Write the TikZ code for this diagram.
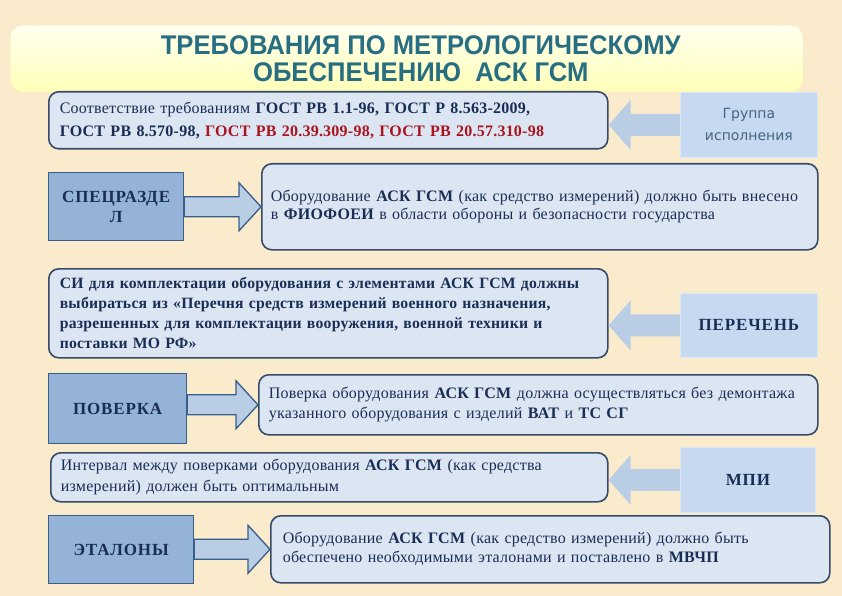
\documentclass[tikz,border=0pt]{standalone}
\usepackage{fontspec}
\setmainfont{Liberation Serif}[LetterSpace=1.5]
\newfontfamily\titlefont[FakeStretch=0.95]{Liberation Sans}
\newfontfamily\grpfont{DejaVu Sans}
\newfontfamily\keyfont[LetterSpace=5]{Liberation Serif}
\usetikzlibrary{calc}
\definecolor{bgcol}{RGB}{250,235,205}
\definecolor{boxfill}{RGB}{220,230,242}
\definecolor{boxline}{RGB}{55,75,105}
\definecolor{keyfill}{RGB}{149,179,215}
\definecolor{keyline}{RGB}{56,93,138}
\definecolor{srcfill}{RGB}{198,217,241}
\definecolor{arrfill}{RGB}{185,205,229}
\definecolor{navy}{RGB}{25,45,85}
\definecolor{redt}{RGB}{170,20,30}
\definecolor{grptext}{RGB}{70,100,130}
\definecolor{titlecol}{RGB}{40,110,130}

\newcommand\rightarr[2]{\filldraw[rarr] let \p1=(#1.east),\p2=(#2.west) in
  (\x1,\y2+10pt)--(\x2-22pt,\y2+10pt)--(\x2-22pt,\y2+24pt)--(\p2)
  --(\x2-22pt,\y2-24pt)--(\x2-22pt,\y2-10pt)--(\x1,\y2-10pt)--cycle;}
\newcommand\leftarr[2]{\fill[larr] let \p1=(#1.west),\p2=(#2.east) in
  (\x1,\y1+11pt)--(\x2+22pt,\y1+11pt)--(\x2+22pt,\y1+25pt)--(\x2,\y1)
  --(\x2+22pt,\y1-25pt)--(\x2+22pt,\y1-11pt)--(\x1,\y1-11pt)--cycle;}

\begin{document}
\begin{tikzpicture}[x=1pt,y=-1pt,
 titlebox/.style={draw=yellow!30!orange!25,rounded corners=12pt,top color=yellow!6,bottom color=yellow!28,anchor=north west,align=center,text=titlecol,font=\titlefont\bfseries\fontsize{27}{27}\selectfont},
 txtbox/.style={draw=boxline,line width=1.6pt,rounded corners=10pt,fill=boxfill,anchor=north west,align=left,text=navy,font=\fontsize{16}{20}\selectfont},
 keybox/.style={draw=keyline,line width=1.3pt,fill=keyfill,anchor=north west,align=center,text=navy,font=\keyfont\bfseries\fontsize{17}{20}\selectfont},
 srcbox/.style={draw=srcfill!60!white,line width=0.8pt,fill=srcfill,anchor=north west,align=center,text=navy,font=\keyfont\bfseries\fontsize{17}{20}\selectfont},
 rarr/.style={draw=keyline,line width=1.3pt,fill=arrfill},
 larr/.style={fill=arrfill}]
\fill[bgcol](0,0)rectangle(842,596);
\useasboundingbox(0,0)rectangle(842,596);

\node[titlebox,minimum width=793,minimum height=67](title)at(10,25){\hspace*{28pt}ТРЕБОВАНИЯ ПО МЕТРОЛОГИЧЕСКОМУ\\\hspace*{28pt}ОБЕСПЕЧЕНИЮ~~АСК ГСМ};

\node[txtbox,minimum width=559,minimum height=57,text width=537,font=\fontsize{16}{23}\selectfont](req)at(48,91){Соответствие требованиям \textbf{ГОСТ РВ 1.1-96, ГОСТ Р 8.563-2009,}\\\textbf{ГОСТ РВ 8.570-98, \textcolor{redt}{ГОСТ РВ 20.39.309-98, ГОСТ РВ 20.57.310-98}}};
\node[srcbox,minimum width=137,minimum height=65,text=grptext,font=\grpfont\fontsize{14}{22}\selectfont](grp)at(680,92){Группа\\исполнения};

\node[keybox,minimum width=135,minimum height=68](spec)at(48,172){СПЕЦРАЗДЕ\\Л};
\node[txtbox,minimum width=556,minimum height=86,text width=538,font=\fontsize{16}{18}\selectfont](fio)at(261,163){Оборудование \textbf{АСК ГСМ} (как средство измерений) должно быть внесено\\в \textbf{ФИОФОЕИ} в области обороны и безопасности государства};

\node[txtbox,minimum width=559,minimum height=89,text width=537,font=\bfseries\fontsize{15.7}{20}\selectfont](si)at(48,268){СИ для комплектации оборудования с элементами АСК ГСМ должны\\выбираться из «Перечня средств измерений военного назначения,\\разрешенных для комплектации вооружения, военной техники и\\поставки МО РФ»};
\node[srcbox,minimum width=137,minimum height=64](per)at(680,293){ПЕРЕЧЕНЬ};

\node[keybox,minimum width=138,minimum height=70](pov)at(48,373){ПОВЕРКА};
\node[txtbox,minimum width=559,minimum height=60,text width=539](dem)at(258,374){Поверка оборудования \textbf{АСК ГСМ} должна осуществляться без демонтажа\\указанного оборудования с изделий \textbf{ВАТ} и \textbf{ТС СГ}};

\node[txtbox,minimum width=557,minimum height=49,text width=537,font=\fontsize{16}{21}\selectfont](int)at(50,452){Интервал между поверками оборудования \textbf{АСК ГСМ} (как средства\\измерений) должен быть оптимальным};
\node[srcbox,minimum width=135,minimum height=65](mpi)at(680,447){МПИ};

\node[keybox,minimum width=145,minimum height=68](etal)at(48,515){ЭТАЛОНЫ};
\node[txtbox,minimum width=559,minimum height=67,text width=535,font=\fontsize{16}{19}\selectfont](mvchp)at(270,515){Оборудование \textbf{АСК ГСМ} (как средство измерений) должно быть\\обеспечено необходимыми эталонами и поставлено в \textbf{МВЧП}};

\leftarr{grp}{req}
\rightarr{spec}{fio}
\leftarr{per}{si}
\rightarr{pov}{dem}
\leftarr{mpi}{int}
\rightarr{etal}{mvchp}
\end{tikzpicture}
\end{document}
